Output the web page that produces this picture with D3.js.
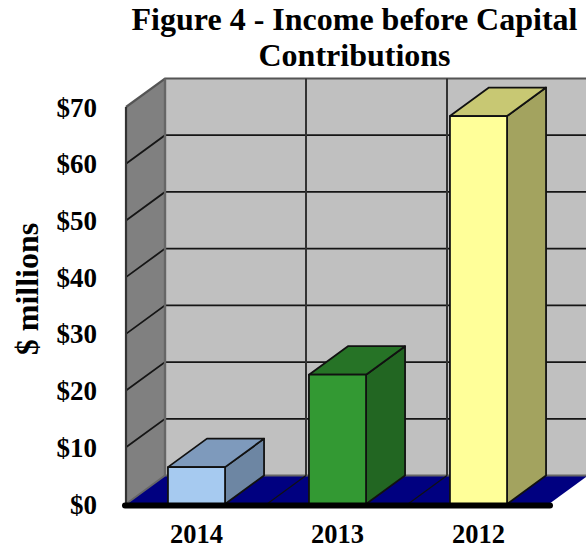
<!DOCTYPE html>
<html>
<head>
<meta charset="utf-8">
<script src="https://cdn.jsdelivr.net/npm/d3@7"></script>
<style>
  html, body { margin: 0; padding: 0; background: #fff; }
  svg { display: block; }
  text { font-family: "Liberation Serif", serif; font-weight: bold; fill: #000; }
</style>
</head>
<body>
<svg id="chart" width="586" height="550"></svg>
<script>
// Income before capital contributions, $ millions
const categories = ["2014", "2013", "2012"];
const incomeValues = [6.5, 22.8, 68.4];
const tickValues = [0, 10, 20, 30, 40, 50, 60, 70];
const titleLines = ["Figure 4 - Income before Capital", "Contributions"];
const axisTitle = "$ millions";
const barColors = [
  { front: "#a6caf0", top: "#7e9abc", side: "#6d86a3" },
  { front: "#339933", top: "#267326", side: "#226622" },
  { front: "#ffff99", top: "#c8c873", side: "#a3a35f" }
];

const svg = d3.select("#chart");

// Oblique projection: the depth axis shifts right and up
const depthX = 39, depthY = -28.5;
const x = d3.scaleBand().domain(categories).range([126, 549]).paddingInner(0.595).paddingOuter(0.2975);
const y = d3.scaleLinear().domain([0, 70]).range([504, 107]);
const poly = pts => pts.map(p => p.join(",")).join(" ");
const plotRight = x.range()[1];
const back = ([px, py]) => [px + depthX, py + depthY];

const y0 = y(0), yMax = y(70), left = x.range()[0];

// Back wall, side wall and floor
svg.append("polygon")
  .attr("points", poly([back([left, yMax]), back([plotRight, yMax]), back([plotRight, y0]), back([left, y0])]))
  .attr("fill", "#c0c0c0");
svg.append("polygon")
  .attr("points", poly([[left, yMax], back([left, yMax]), back([left, y0]), [left, y0]]))
  .attr("fill", "#808080");
svg.append("polygon")
  .attr("points", poly([[left, y0], back([left, y0]), back([plotRight, y0]), [plotRight, y0]]))
  .attr("fill", "#000080");

// Horizontal gridlines wrap from the side wall on to the back wall
const grid = svg.append("g").attr("fill", "none");
tickValues.forEach(v => {
  grid.append("polyline")
    .attr("points", poly([[left, y(v)], back([left, y(v)]), back([plotRight, y(v)])]))
    .attr("stroke", v === 70 ? "#555" : v === 0 ? "#666" : "#151515")
    .attr("stroke-width", v === 70 ? 2.2 : 1.8);
});

// Vertical dividers between categories, continuing across the floor
const step = x.step();
d3.range(0, 3).forEach(i => {
  const fx = left + i * step;
  grid.append("line")
    .attr("x1", back([fx, yMax])[0]).attr("y1", back([fx, yMax])[1])
    .attr("x2", back([fx, y0])[0]).attr("y2", back([fx, y0])[1])
    .attr("stroke", i === 0 ? "#666" : "#333")
    .attr("stroke-width", i === 0 ? 2.4 : 2);
  if (i > 0) {
    grid.append("line")
      .attr("x1", fx).attr("y1", y0)
      .attr("x2", back([fx, y0])[0]).attr("y2", back([fx, y0])[1])
      .attr("stroke", "#111").attr("stroke-width", 1.2);
  }
});

// Left edge of the side wall
svg.append("line")
  .attr("x1", left).attr("y1", yMax).attr("x2", left).attr("y2", y0)
  .attr("stroke", "#333").attr("stroke-width", 2.2);

// Bars drawn as three-faced boxes
const bars = svg.append("g")
  .selectAll("g")
  .data(categories.map((c, i) => ({ c, v: incomeValues[i], col: barColors[i] })))
  .join("g")
  .attr("stroke", "#111")
  .attr("stroke-width", 1.8)
  .attr("stroke-linejoin", "round");

bars.append("polygon")
  .attr("points", d => {
    const a = x(d.c) + x.bandwidth(), t = y(d.v);
    return poly([[a, t], back([a, t]), back([a, y0]), [a, y0]]);
  })
  .attr("fill", d => d.col.side);
bars.append("polygon")
  .attr("points", d => {
    const a = x(d.c), b = a + x.bandwidth(), t = y(d.v);
    return poly([[a, t], back([a, t]), back([b, t]), [b, t]]);
  })
  .attr("fill", d => d.col.top);
bars.append("rect")
  .attr("x", d => x(d.c))
  .attr("y", d => y(d.v))
  .attr("width", x.bandwidth())
  .attr("height", d => y0 - y(d.v))
  .attr("fill", d => d.col.front);

// Heavy baseline along the front of the floor
svg.append("line")
  .attr("x1", left - 1).attr("y1", y0 + 1.5).attr("x2", plotRight + 1).attr("y2", y0 + 1.5)
  .attr("stroke", "#000").attr("stroke-width", 6)
  .attr("stroke-linecap", "round");

// Value axis labels
svg.append("g").selectAll("text")
  .data(tickValues)
  .join("text")
  .attr("x", 97)
  .attr("y", d => y(d) + 9.5)
  .attr("text-anchor", "end")
  .attr("font-size", 27)
  .text(d => "$" + d);

// Category labels
svg.append("g").selectAll("text")
  .data(categories)
  .join("text")
  .attr("x", d => x(d) + x.bandwidth() / 2)
  .attr("y", 543)
  .attr("text-anchor", "middle")
  .attr("font-size", 26.5)
  .text(d => d);

// Title
svg.append("g").selectAll("text")
  .data(titleLines)
  .join("text")
  .attr("x", 354.5)
  .attr("y", (d, i) => 30 + i * 36)
  .attr("text-anchor", "middle")
  .attr("font-size", 32)
  .text(d => d);

// Rotated axis title
svg.append("text")
  .attr("transform", "translate(38,289) rotate(-90)")
  .attr("text-anchor", "middle")
  .attr("font-size", 32)
  .text(axisTitle);
</script>
</body>
</html>
